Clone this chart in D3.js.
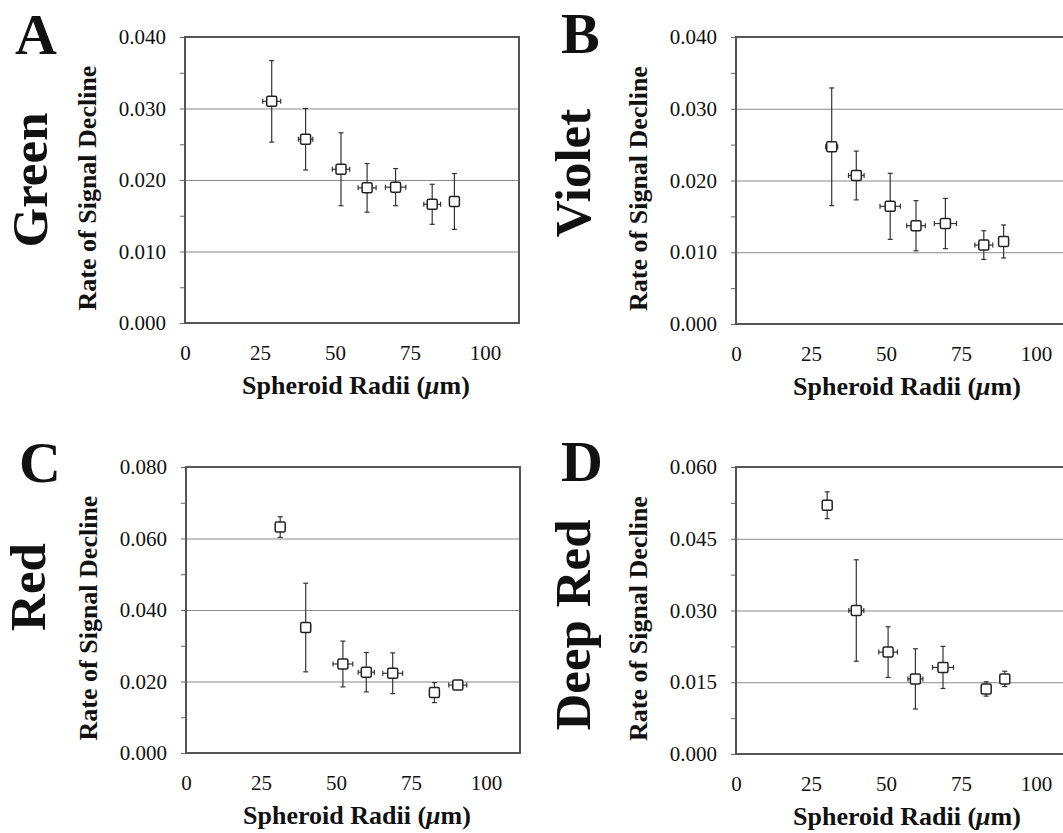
<!DOCTYPE html>
<html>
<head>
<meta charset="utf-8">
<script src="https://cdn.jsdelivr.net/npm/d3@7"></script>
<style>
  body { margin: 0; background: #fff; }
  text { font-family: "Liberation Serif", "Times New Roman", serif; fill: #111; }
</style>
</head>
<body>
<div class="container"></div>
<script>
// x tick labels shared by all four panels
const radiusTicks = [0, 25, 50, 75, 100];

// panel A - Green
const radiiGreen = [28.9, 40.2, 52.0, 60.7, 70.2, 82.4, 89.8];
const radiiErrGreen = [3.0, 2.4, 2.9, 3.0, 3.4, 2.8, 1.5];
const rateGreen = [0.0310, 0.0257, 0.0215, 0.0189, 0.0190, 0.0166, 0.0170];
const rateErrGreen = [0.0057, 0.0043, 0.0051, 0.0034, 0.0026, 0.0028, 0.0039];
const rateTicksGreen = [0, 0.01, 0.02, 0.03, 0.04];

// panel B - Violet
const radiiViolet = [31.9, 40.1, 51.4, 60.0, 69.8, 82.6, 89.2];
const radiiErrViolet = [2.0, 2.6, 3.4, 3.1, 3.7, 3.0, 1.5];
const rateViolet = [0.0247, 0.0207, 0.0164, 0.0137, 0.0140, 0.0110, 0.0115];
const rateErrViolet = [0.0082, 0.0034, 0.0046, 0.0035, 0.0035, 0.0020, 0.0023];
const rateTicksViolet = [0, 0.01, 0.02, 0.03, 0.04];

// panel C - Red
const radiiRed = [31.4, 39.9, 52.3, 60.1, 68.9, 82.8, 90.6];
const radiiErrRed = [1.0, 1.6, 3.3, 2.7, 3.3, 1.0, 3.0];
const rateRed = [0.0632, 0.0351, 0.0249, 0.0226, 0.0223, 0.0169, 0.0190];
const rateErrRed = [0.0029, 0.0124, 0.0064, 0.0055, 0.0057, 0.0028, 0.0010];
const rateTicksRed = [0, 0.02, 0.04, 0.06, 0.08];

// panel D - Deep Red
const radiiDeepRed = [30.4, 40.1, 50.7, 59.8, 69.0, 83.4, 89.6];
const radiiErrDeepRed = [1.0, 2.5, 3.1, 2.5, 3.5, 1.0, 1.0];
const rateDeepRed = [0.0520, 0.0300, 0.0213, 0.0157, 0.0181, 0.0136, 0.0157];
const rateErrDeepRed = [0.0028, 0.0106, 0.0053, 0.0063, 0.0044, 0.0015, 0.0016];
const rateTicksDeepRed = [0, 0.015, 0.03, 0.045, 0.06];

const width = 1063;
const height = 833;

const svg = d3.select(".container")
  .append("svg")
  .attr("width", width)
  .attr("height", height);

// where each panel sits on the page
const panels = [
  { letter: "A", name: "Green", radii: radiiGreen, radiiErr: radiiErrGreen, rate: rateGreen, rateErr: rateErrGreen, ticks: rateTicksGreen,
    left: 185, top: 37, bottom: 323, letterX: 15, letterY: 54, nameX: 47, nameY: 180 },
  { letter: "B", name: "Violet", radii: radiiViolet, radiiErr: radiiErrViolet, rate: rateViolet, rateErr: rateErrViolet, ticks: rateTicksViolet,
    left: 736, top: 37, bottom: 324, letterX: 561, letterY: 53, nameX: 590, nameY: 173 },
  { letter: "C", name: "Red", radii: radiiRed, radiiErr: radiiErrRed, rate: rateRed, rateErr: rateErrRed, ticks: rateTicksRed,
    left: 186, top: 467, bottom: 753, letterX: 19, letterY: 482, nameX: 45, nameY: 587 },
  { letter: "D", name: "Deep Red", radii: radiiDeepRed, radiiErr: radiiErrDeepRed, rate: rateDeepRed, rateErr: rateErrDeepRed, ticks: rateTicksDeepRed,
    left: 736, top: 467, bottom: 754, letterX: 561, letterY: 481, nameX: 590, nameY: 625 }
];

const plotWidth = 334;
const fmt = d3.format(".3f");

panels.forEach(drawPanel);

function drawPanel(p) {
  const g = svg.append("g");
  const right = p.left + plotWidth;

  // x: 0..100 takes 300px, the plot box runs a little past 100
  const xScale = d3.scaleLinear()
    .domain([0, plotWidth / 3])
    .range([p.left, right]);

  const yMax = p.ticks[p.ticks.length - 1];
  const yScale = d3.scaleLinear()
    .domain([0, yMax])
    .range([p.bottom, p.top]);

  // minor ticks halfway between the labelled ones
  const step = p.ticks[1] - p.ticks[0];
  const allTicks = d3.range(0, 2 * (p.ticks.length - 1) + 1).map(i => i * step / 2);

  // gridlines
  g.append("g")
    .attr("transform", `translate(${p.left},0)`)
    .call(d3.axisLeft(yScale).tickValues(p.ticks.slice(1, -1)).tickSize(-plotWidth).tickFormat(""))
    .call(s => s.select(".domain").remove())
    .call(s => s.selectAll("line").attr("stroke", "#8a8a8a").attr("stroke-width", 1.2));

  // tick marks on the left axis
  g.append("g")
    .attr("transform", `translate(${p.left},0)`)
    .call(d3.axisLeft(yScale).tickValues(allTicks).tickSize(5).tickFormat(""))
    .call(s => s.select(".domain").remove())
    .call(s => s.selectAll("line").attr("stroke", "#666").attr("stroke-width", 1));

  // y tick labels
  g.append("g")
    .attr("transform", `translate(${p.left},0)`)
    .call(d3.axisLeft(yScale).tickValues(p.ticks).tickSize(0).tickPadding(19).tickFormat(fmt))
    .call(s => s.select(".domain").remove())
    .call(s => s.selectAll("text")
      .attr("font-family", "Liberation Serif, Times New Roman, serif")
      .attr("font-size", 21).attr("fill", "#111"));

  // x tick labels
  g.append("g")
    .attr("transform", `translate(0,${p.bottom})`)
    .call(d3.axisBottom(xScale).tickValues(radiusTicks).tickSize(0).tickPadding(22))
    .call(s => s.select(".domain").remove())
    .call(s => s.selectAll("text")
      .attr("font-family", "Liberation Serif, Times New Roman, serif")
      .attr("font-size", 21).attr("fill", "#111"));

  // plot box
  g.append("rect")
    .attr("x", p.left).attr("y", p.top)
    .attr("width", plotWidth).attr("height", p.bottom - p.top)
    .attr("fill", "none").attr("stroke", "#555").attr("stroke-width", 2);

  const pts = p.radii.map((r, i) => ({ r: r, re: p.radiiErr[i], v: p.rate[i], ve: p.rateErr[i] }));
  const bars = g.append("g").attr("stroke", "#333").attr("stroke-width", 1.2);
  const cap = 2.5;

  // vertical error bars
  pts.forEach(d => {
    const cx = xScale(d.r);
    const y1 = yScale(d.v + d.ve), y2 = yScale(d.v - d.ve);
    bars.append("line").attr("x1", cx).attr("x2", cx).attr("y1", y1).attr("y2", y2);
    bars.append("line").attr("x1", cx - cap).attr("x2", cx + cap).attr("y1", y1).attr("y2", y1);
    bars.append("line").attr("x1", cx - cap).attr("x2", cx + cap).attr("y1", y2).attr("y2", y2);
    // horizontal error bars
    const cy = yScale(d.v);
    const x1 = xScale(d.r - d.re), x2 = xScale(d.r + d.re);
    bars.append("line").attr("x1", x1).attr("x2", x2).attr("y1", cy).attr("y2", cy);
    bars.append("line").attr("x1", x1).attr("x2", x1).attr("y1", cy - cap).attr("y2", cy + cap);
    bars.append("line").attr("x1", x2).attr("x2", x2).attr("y1", cy - cap).attr("y2", cy + cap);
  });

  // square markers
  g.append("g")
    .selectAll("rect")
    .data(pts)
    .join("rect")
    .attr("x", d => xScale(d.r) - 5)
    .attr("y", d => yScale(d.v) - 5)
    .attr("width", 10).attr("height", 10)
    .attr("rx", 1.5)
    .attr("fill", "#fff")
    .attr("stroke", "#222")
    .attr("stroke-width", 1.5);

  // axis titles
  g.append("text")
    .attr("transform", `translate(${p.left - 89},${(p.top + p.bottom) / 2 + 8}) rotate(-90)`)
    .attr("text-anchor", "middle")
    .attr("font-size", 26).attr("font-weight", "bold")
    .text("Rate of Signal Decline");

  const xt = g.append("text")
    .attr("x", p.left + 171).attr("y", p.bottom + 71)
    .attr("text-anchor", "middle")
    .attr("font-size", 26).attr("font-weight", "bold");
  xt.append("tspan").text("Spheroid Radii (");
  xt.append("tspan").attr("font-style", "italic").text("\u03bc");
  xt.append("tspan").text("m)");

  // panel letter and colour name
  g.append("text")
    .attr("x", p.letterX).attr("y", p.letterY)
    .attr("font-size", 58).attr("font-weight", "bold")
    .text(p.letter);

  g.append("text")
    .attr("transform", `translate(${p.nameX},${p.nameY}) rotate(-90)`)
    .attr("text-anchor", "middle")
    .attr("font-size", 51).attr("font-weight", "bold")
    .text(p.name);
}
</script>
</body>
</html>
